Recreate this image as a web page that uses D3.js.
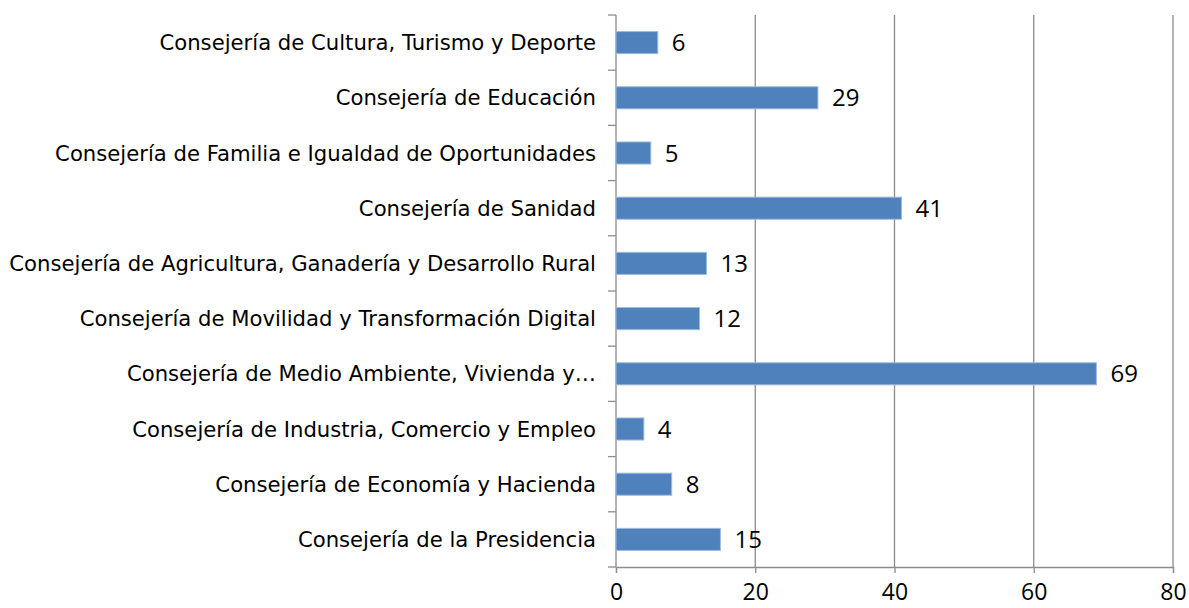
<!DOCTYPE html>
<html>
<head>
<meta charset="utf-8">
<script src="https://cdn.jsdelivr.net/npm/d3@7"></script>
<style>
  body { margin: 0; background: #fff; }
  svg { display: block; }
</style>
</head>
<body>
<svg id="chart" width="1189" height="608"></svg>
<script>
// categories from top to bottom, as in the picture
const categories = [
  'Consejería de Cultura, Turismo y Deporte',
  'Consejería de Educación',
  'Consejería de Familia e Igualdad de Oportunidades',
  'Consejería de Sanidad',
  'Consejería de Agricultura, Ganadería y Desarrollo Rural',
  'Consejería de Movilidad y Transformación Digital',
  'Consejería de Medio Ambiente, Vivienda y…',
  'Consejería de Industria, Comercio y Empleo',
  'Consejería de Economía y Hacienda',
  'Consejería de la Presidencia'
];
const values = [6, 29, 5, 41, 13, 12, 69, 4, 8, 15];
const xTicks = [0, 20, 40, 60, 80];

const plotLeft = 616, plotRight = 1173, plotTop = 15, plotBottom = 567;
const barColor = '#4f81bd';
const gridColor = '#8c8c8c';
const numFont = '"Open Sans", sans-serif';

const svg = d3.select('#chart');

const x = d3.scaleLinear().domain([0, 80]).range([plotLeft, plotRight]);
const y = d3.scaleBand()
  .domain(categories)
  .range([plotTop, plotBottom])
  .paddingInner(0.6)
  .paddingOuter(0.3);

// vertical gridlines
svg.append('g')
  .selectAll('line')
  .data(xTicks.slice(1))
  .join('line')
  .attr('x1', d => x(d)).attr('x2', d => x(d))
  .attr('y1', plotTop).attr('y2', plotBottom)
  .attr('stroke', gridColor)
  .attr('stroke-width', 1.3);

// bottom axis
const xAxis = svg.append('g')
  .attr('transform', `translate(0,${plotBottom})`)
  .call(d3.axisBottom(x).tickValues(xTicks).tickSize(6).tickPadding(11));
xAxis.select('.domain').attr('stroke', gridColor).attr('stroke-width', 1.3);
xAxis.selectAll('.tick line').attr('stroke', gridColor).attr('stroke-width', 1.3);
xAxis.selectAll('.tick text')
  .attr('fill', '#000')
  .style('font-family', numFont)
  .style('font-size', '23px');

// left axis: category boundaries as ticks
const step = y.step();
const bounds = d3.range(categories.length + 1).map(i => plotTop + i * step);
svg.append('g')
  .selectAll('line')
  .data(bounds)
  .join('line')
  .attr('x1', plotLeft - 8).attr('x2', plotLeft)
  .attr('y1', d => d).attr('y2', d => d)
  .attr('stroke', gridColor)
  .attr('stroke-width', 1.3);
svg.append('line')
  .attr('x1', plotLeft).attr('x2', plotLeft)
  .attr('y1', plotTop).attr('y2', plotBottom)
  .attr('stroke', gridColor)
  .attr('stroke-width', 1.3);

// bars
svg.append('g')
  .selectAll('rect')
  .data(values)
  .join('rect')
  .attr('x', x(0))
  .attr('y', (d, i) => y(categories[i]))
  .attr('width', d => x(d) - x(0))
  .attr('height', y.bandwidth())
  .attr('fill', barColor)
  .attr('stroke', '#9fbbdd')
  .attr('stroke-width', 1);

// value labels
svg.append('g')
  .selectAll('text')
  .data(values)
  .join('text')
  .attr('x', d => x(d) + 14)
  .attr('y', (d, i) => y(categories[i]) + y.bandwidth() / 2)
  .attr('dy', '0.36em')
  .style('font-family', numFont)
  .style('font-size', '24px')
  .text(d => d);

// category labels, squeezed horizontally to match the narrow face
const catLabels = svg.append('g')
  .selectAll('text')
  .data(categories)
  .join('text')
  .attr('text-anchor', 'end')
  .attr('dy', '0.36em')
  .style('font-family', '"DejaVu Sans", sans-serif')
  .style('font-size', '21px')
  .text(d => d);

let widest = 0;
catLabels.each(function() { widest = Math.max(widest, this.getComputedTextLength()); });
const sx = 587 / widest;
catLabels.attr('transform', d => `translate(596,${y(d) + y.bandwidth() / 2}) scale(${sx},1)`);
</script>
</body>
</html>
